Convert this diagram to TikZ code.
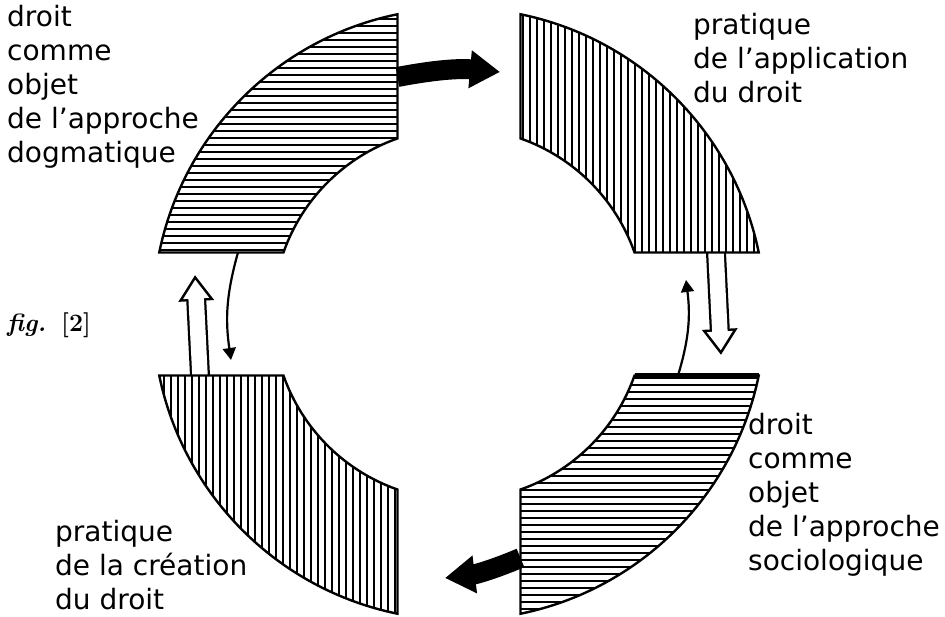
\documentclass[tikz,border=0pt]{standalone}
\usepackage{fontspec}
\newfontfamily\labelfont{DejaVu Sans}
\usetikzlibrary{arrows.meta}
\tikzset{
  rim/.style={line width=2.4pt,line join=miter},
  hatch/.style={line width=2.1pt},
  sector shape/.style={insert path={(101.59:306) arc[start angle=101.59,end angle=168.41,radius=306]
      -- (160.69:186) arc[start angle=160.69,end angle=109.31,radius=186] -- cycle}},
  blocktext/.style={anchor=base west,inner sep=0pt,align=left,font=\labelfont\fontsize{28}{34}\selectfont},
  bigarrow/.style={line width=20pt,-{Triangle[width=36pt,length=30pt]}},
  openarrow/.style={line width=20pt,-{Triangle[width=34pt,length=26pt]},
      postaction={draw=white,line width=15.5pt,shorten >=4.6pt,-{Triangle[width=24.7pt,length=18.9pt]}}},
  thinarrow/.style={line width=2.2pt,-{Triangle[width=13pt,length=12pt]}}
}
\begin{document}
\begin{tikzpicture}[x=1pt,y=1pt]
  \useasboundingbox (-459,-303) rectangle (486,314);
  % arrow ends
  \coordinate (dogm-out) at (-61.5,237);
  \coordinate (appl-in) at (41,242);
  \coordinate (soc-out) at (61.5,-244);
  \coordinate (crea-in) at (-14,-264);
  \coordinate (crea-up) at (-259,-61.5);
  \coordinate (crea-up-tip) at (-264,39);
  \coordinate (appl-down) at (257,61.5);
  \coordinate (appl-down-tip) at (262,-41);
  \coordinate (dogm-down) at (-221,61.5);
  \coordinate (dogm-down-tip) at (-228,-46);
  \coordinate (soc-up) at (219,-61.5);
  \coordinate (soc-up-tip) at (227,34);

  \draw[bigarrow] (dogm-out) to[bend left=8] (appl-in);
  \draw[bigarrow] (soc-out) to[bend left=8] (crea-in);
  \draw[openarrow] (crea-up) -- (crea-up-tip);
  \draw[openarrow] (appl-down) -- (appl-down-tip);
  \draw[thinarrow] (dogm-down) to[bend right=12] (dogm-down-tip);
  \draw[thinarrow] (soc-up) to[bend right=12] (soc-up-tip);

  % four hatched quarter rings
  \foreach \rot in {0,-90,-180,-270} {
    \begin{scope}[rotate=\rot]
      \begin{scope}
        \clip[sector shape];
        \foreach \h in {64,71,...,306}
          \draw[hatch] (-310,\h) -- (0,\h);
      \end{scope}
      \draw[rim,sector shape];
    \end{scope}
  }
  \draw[line width=4pt] (175.5,-61.5) -- (299.8,-61.5);

  % anchors sit on the last line
  \node[blocktext] (dogm) at (-452,151) {droit\\comme\\objet\\de l’approche\\dogmatique};
  \node[blocktext] (appl) at (234,211) {pratique\\de l’application\\du droit};
  \node[blocktext] (soc) at (289,-257) {droit\\comme\\objet\\de l’approche\\sociologique};
  \node[blocktext] (crea) at (-404,-296) {pratique\\de la création\\du droit};
  \node[anchor=base west,inner sep=0pt,font=\fontsize{25}{30}\selectfont] (fig) at (-452,-18)
    {\textbf{\textit{fig.}}\hspace{0.6em}\textbf{[2]}};
\end{tikzpicture}
\end{document}
